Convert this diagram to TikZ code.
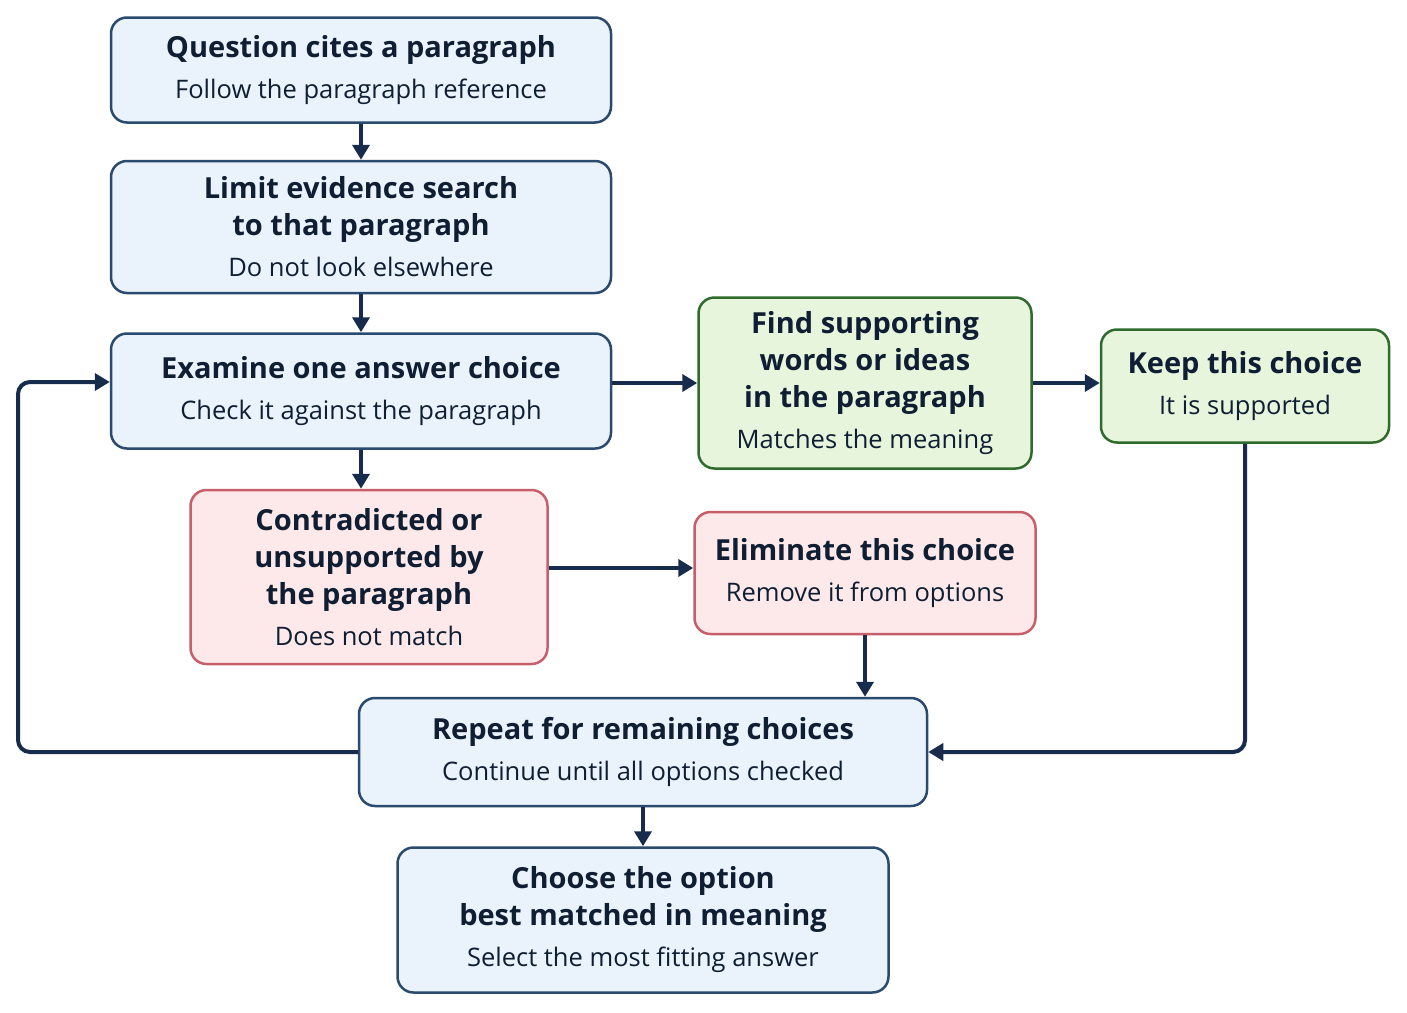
\documentclass[tikz,border=0pt]{standalone}
\usepackage{fontspec}
\setmainfont{Open Sans}
\usetikzlibrary{arrows.meta}

\definecolor{ink}{HTML}{0F1E33}
\definecolor{arrowc}{HTML}{172B4D}
\definecolor{bluefill}{HTML}{EAF3FB}
\definecolor{blueline}{HTML}{2A4A6E}
\definecolor{greenfill}{HTML}{E7F5DD}
\definecolor{greenline}{HTML}{2F6B2C}
\definecolor{redfill}{HTML}{FDE9E9}
\definecolor{redline}{HTML}{C65F6A}

\newcommand{\subline}[1]{{\fontsize{25.5}{37}\selectfont\mdseries #1}}

\begin{document}
\begin{tikzpicture}[x=1pt, y=-1pt,
    box/.style={draw, line width=2.5pt, rounded corners=16pt, align=center,
        text=ink, font=\fontsize{29}{37}\selectfont\bfseries, inner sep=0pt},
    bluebox/.style={box, draw=blueline, fill=bluefill},
    greenbox/.style={box, draw=greenline, fill=greenfill},
    redbox/.style={box, draw=redline, fill=redfill},
    flow/.style={draw=arrowc, line width=4pt, -{Triangle[length=15pt, width=17pt]}}]
    \useasboundingbox[fill=white] (0,0) rectangle (1407,1012);

    % Main column
    \node[bluebox, minimum width=500pt, minimum height=105pt] (cite) at (361,70)
        {Question cites a paragraph\\[4pt]\subline{Follow the paragraph reference}};
    \node[bluebox, minimum width=500pt, minimum height=132pt] (limit) at (361,227)
        {Limit evidence search\\to that paragraph\\[4pt]\subline{Do not look elsewhere}};
    \node[bluebox, minimum width=500pt, minimum height=115pt] (exam) at (361,391)
        {Examine one answer choice\\[4pt]\subline{Check it against the paragraph}};

    % Supported branch
    \node[greenbox, minimum width=333pt, minimum height=171pt] (find) at (865,383)
        {Find supporting\\words or ideas\\in the paragraph\\[4pt]\subline{Matches the meaning}};
    \node[greenbox, minimum width=288pt, minimum height=113pt] (keep) at (1245,386)
        {Keep this choice\\[4pt]\subline{It is supported}};

    % Rejected branch
    \node[redbox, minimum width=357pt, minimum height=174pt] (contra) at (369,577)
        {Contradicted or\\unsupported by\\the paragraph\\[4pt]\subline{Does not match}};
    \node[redbox, minimum width=341pt, minimum height=122pt] (elim) at (865,573)
        {Eliminate this choice\\[4pt]\subline{Remove it from options}};

    % Loop and result
    \node[bluebox, minimum width=568pt, minimum height=108pt] (repeat) at (643,752)
        {Repeat for remaining choices\\[4pt]\subline{Continue until all options checked}};
    \node[bluebox, minimum width=491pt, minimum height=145pt] (choose) at (643,920)
        {Choose the option\\best matched in meaning\\[4pt]\subline{Select the most fitting answer}};
    \coordinate (back) at (18,748);

    % Connectors
    \draw[flow] (cite) -- (limit);
    \draw[flow] (limit) -- (exam);
    \draw[flow] (exam.east |- find.west) -- (find.west);
    \draw[flow] (find.east) -- (find.east -| keep.west);
    \draw[flow] (exam.south) -- (exam.south |- contra.north);
    \draw[flow] ([yshift=5pt]elim.west -| contra.east) -- ([yshift=5pt]elim.west);
    \draw[flow] (elim.south) -- (elim.south |- repeat.north);
    \draw[flow, rounded corners=12pt] (keep.south) |- (repeat.east);
    \draw[flow, rounded corners=12pt] (repeat.west) -- (repeat.west -| back) |- ([yshift=9pt]exam.west);
    \draw[flow] (repeat) -- (choose);
\end{tikzpicture}
\end{document}
